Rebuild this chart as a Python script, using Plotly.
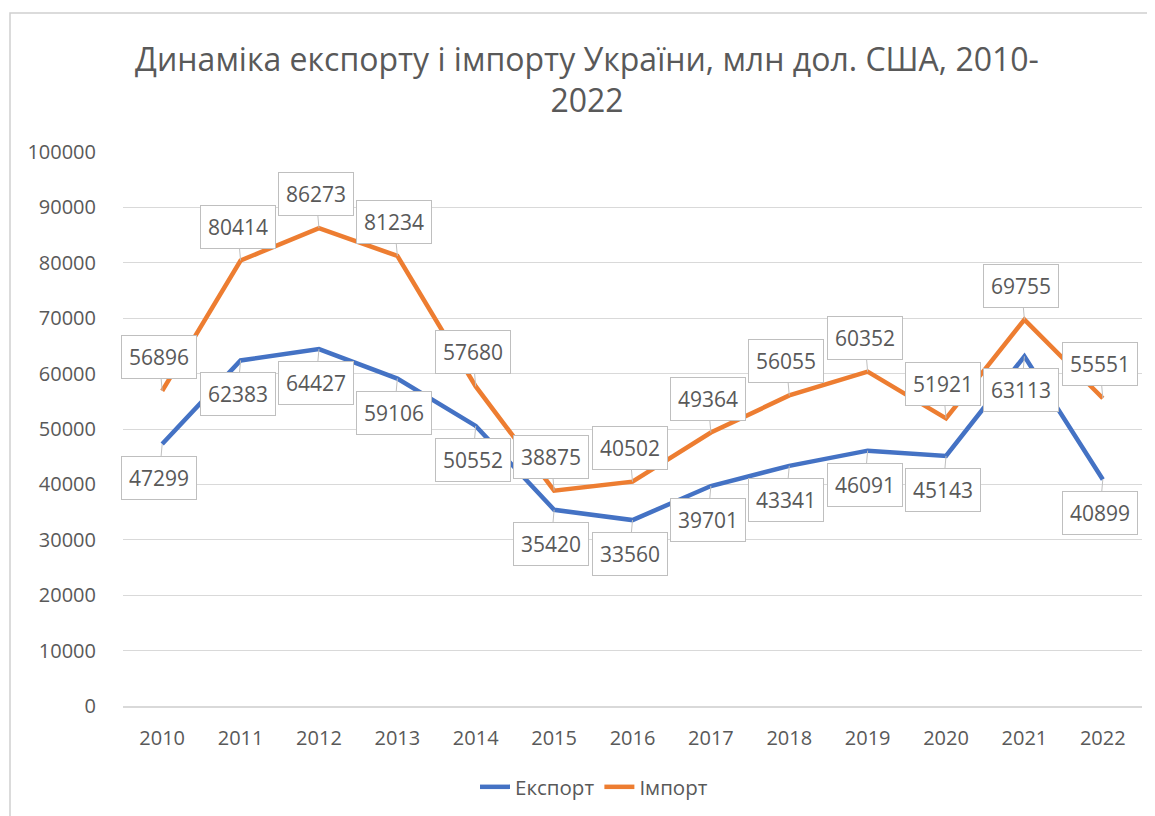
import plotly.graph_objects as go

years = ["2010", "2011", "2012", "2013", "2014", "2015", "2016",
         "2017", "2018", "2019", "2020", "2021", "2022"]
export_vals = [47299, 62383, 64427, 59106, 50552, 35420, 33560,
               39701, 43341, 46091, 45143, 63113, 40899]
import_vals = [56896, 80414, 86273, 81234, 57680, 38875, 40502,
               49364, 56055, 60352, 51921, 69755, 55551]

title_text = "Динаміка експорту і імпорту України, млн дол. США, 2010-<br>2022"
series_names = ["Експорт", "Імпорт"]
colors = ["#4472C4", "#ED7D31"]

FONT = "Open Sans"
GRAY = "#595959"

# page has an 8px body margin: work in figure coordinates (screen - 8)
OFF = 8
W, H = 1155 - OFF, 816 - OFF
pl, pr, pt, pb = 123 - OFF, 1142 - OFF, 152 - OFF, 706 - OFF

def px_x(p):  # screen px -> paper x
    return (p - OFF - pl) / (pr - pl)

def px_y(p):  # screen px -> paper y
    return (pb - (p - OFF)) / (pb - pt)

fig = go.Figure()
fig.add_trace(go.Scatter(x=years, y=export_vals, mode="lines", name=series_names[0],
                         line=dict(color=colors[0], width=4.5), hoverinfo="skip"))
fig.add_trace(go.Scatter(x=years, y=import_vals, mode="lines", name=series_names[1],
                         line=dict(color=colors[1], width=4.5), hoverinfo="skip"))

for vals, ay in ((import_vals, -34), (export_vals, 34)):
    for i, v in enumerate(vals):
        fig.add_annotation(
            x=i, y=v, xref="x", yref="y", text=str(v),
            showarrow=True, ax=-3, ay=ay,
            arrowhead=0, arrowwidth=1, arrowcolor="#bfbfbf", standoff=0,
            bgcolor="white", bordercolor="#bfbfbf", borderwidth=1, borderpad=7,
            font=dict(family=FONT, size=21, color=GRAY),
        )

fig.add_shape(type="rect", xref="paper", yref="paper",
              x0=px_x(10), x1=px_x(1175), y0=px_y(835), y1=px_y(13),
              line=dict(color="#d0d0d0", width=1.5), layer="below")

fig.update_layout(
    width=W, height=H,
    margin=dict(l=pl, r=W - pr, t=pt, b=H - pb, autoexpand=False),
    paper_bgcolor="white", plot_bgcolor="white",
    title=dict(text=title_text, x=px_x(587), xref="paper", xanchor="center",
               y=1 - (81.5 - OFF - 11) / H, yref="container", yanchor="middle",
               font=dict(family=FONT, size=32, color=GRAY)),
    xaxis=dict(type="category", range=[-0.5, 12.5], showgrid=False,
               showline=True, linecolor="#d9d9d9", linewidth=1.5,
               ticks="", tickfont=dict(family=FONT, size=20, color=GRAY),
               ticklabelstandoff=13),
    yaxis=dict(range=[0, 100000], dtick=10000, tickformat="d",
               showgrid=True, gridcolor="#d9d9d9",
               gridwidth=1.3, zeroline=False, showline=False, ticks="",
               tickfont=dict(family=FONT, size=20, color=GRAY),
               ticklabelstandoff=26),
    legend=dict(orientation="h", x=px_x(594), xanchor="center",
                y=px_y(787), yanchor="middle",
                font=dict(family=FONT, size=20.5, color=GRAY)),
    hovermode=False,
)

fig.write_html("out.html")
